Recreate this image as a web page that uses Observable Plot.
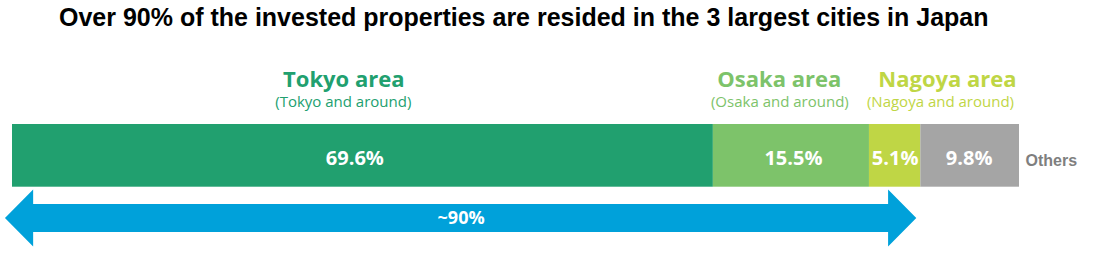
<!DOCTYPE html>
<html>
<head>
<meta charset="utf-8">
<script src="https://cdn.jsdelivr.net/npm/d3@7"></script>
<script src="https://cdn.jsdelivr.net/npm/@observablehq/plot@0.6"></script>
<style>
  html, body { margin: 0; padding: 0; background: #ffffff; }
  #title { height: 40px; line-height: 40px; padding-left: 59px; font: bold 25px "Liberation Sans", Arial, sans-serif; color: #000; white-space: nowrap; }
  #title span { position: relative; top: 3px; }
  #chart svg { display: block; }
</style>
</head>
<body>
<div id="title"><span>Over 90% of the invested properties are resided in the 3 largest cities in Japan</span></div>
<div id="chart"></div>
<script>
// ---- data ----
const regions = ["Tokyo", "Osaka", "Nagoya", "Others"];
const shares = [69.6, 15.5, 5.1, 9.8];
const areaTitles = ["Tokyo area", "Osaka area", "Nagoya area"];
const areaSubtitles = ["(Tokyo and around)", "(Osaka and around)", "(Nagoya and around)"];
const colors = ["#21A06F", "#7DC36A", "#BFD645", "#A5A5A5"];
const othersLabel = "Others";
const arrowLabel = "~90%";

// ---- derived table ----
let acc = 0;
const segs = regions.map((r, i) => {
  const x1 = acc; acc += shares[i];
  return {region: r, share: shares[i], x1, x2: acc, mid: (x1 + acc) / 2, color: colors[i]};
});
const top3 = segs.slice(0, 3);
const top3Sum = d3.sum(top3, d => d.share);

// ---- layout (not data) ----
const titleShift = [-1.9, -1.2, 5.2];
const subShift = [-1.95, -1.15, 4.5];
const valueShift = [-0.8, 0.2, 0, -0.1];
const headLen = 2.8, head = 0.4545, shaft = 0.223, yc = 1.5;
const leftTip = 0 - 0.7, rightTip = top3Sum - 0.4;
const arrowPts = [
  {x: leftTip, t: yc, b: yc},
  {x: leftTip + headLen, t: yc - head, b: yc + head},
  {x: leftTip + headLen, t: yc - shaft, b: yc + shaft},
  {x: rightTip - headLen, t: yc - shaft, b: yc + shaft},
  {x: rightTip - headLen, t: yc - head, b: yc + head},
  {x: rightTip, t: yc, b: yc}
];

const labelFont = "'Open Sans', 'Noto Sans', sans-serif";

const chart = Plot.plot({
  width: 1096,
  height: 217,
  marginLeft: 12,
  marginRight: 77,
  marginTop: 0,
  marginBottom: 0,
  x: {domain: [0, 100], axis: null},
  y: {domain: [0, 1], range: [84, 146.7], axis: null},
  color: {type: "identity"},
  style: {background: "#ffffff", overflow: "visible"},
  marks: [
    Plot.rectX(segs, {x1: "x1", x2: "x2", y1: 0, y2: 1, fill: "color"}),
    Plot.text(segs, {
      x: (d, i) => d.mid + valueShift[i], y: 0.643,
      text: d => d.share.toFixed(1) + "%",
      fill: "white", fontWeight: "bold", fontSize: 20, fontFamily: labelFont,
      lineAnchor: "bottom", textAnchor: "middle"
    }),
    Plot.text(top3, {
      x: (d, i) => d.mid + titleShift[i], y: -0.595,
      text: (d, i) => areaTitles[i],
      fill: "color", fontWeight: "bold", fontSize: 22, fontFamily: labelFont,
      lineAnchor: "bottom", textAnchor: "middle"
    }),
    Plot.text(top3, {
      x: (d, i) => d.mid + subShift[i], y: -0.279,
      text: (d, i) => areaSubtitles[i],
      fill: "color", fontSize: 15, fontFamily: labelFont,
      lineAnchor: "bottom", textAnchor: "middle"
    }),
    Plot.text([segs[3]], {
      x: "x2", y: 0.654, dx: 6,
      text: () => othersLabel,
      fill: "#7F7F7F", fontWeight: "bold", fontSize: 16,
      fontFamily: "'Liberation Sans', Arial, sans-serif",
      lineAnchor: "bottom", textAnchor: "start"
    }),
    Plot.area(arrowPts, {x1: "x", y1: "t", y2: "b", fill: "#00A1DA", curve: "linear"}),
    Plot.text([arrowLabel], {
      x: (leftTip + rightTip) / 2, y: 1.579,
      text: d => d,
      fill: "white", fontWeight: "bold", fontSize: 18, fontFamily: labelFont,
      lineAnchor: "bottom", textAnchor: "middle"
    })
  ]
});
document.getElementById("chart").appendChild(chart);
</script>
</body>
</html>
